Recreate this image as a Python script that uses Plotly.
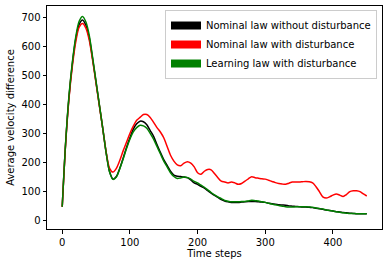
import plotly.graph_objects as go

t_early = [0, 5, 10, 15, 20, 25, 30, 35, 40, 45, 50, 55, 60, 65, 70, 75, 80, 85, 90, 95]
t_late = list(range(100, 451, 5))
time_steps = t_early + t_late

black_vals = [48, 265, 425, 540, 625, 675, 690, 672, 628, 555, 475, 395, 315, 232, 168, 143, 152, 180, 215, 252,
              285, 315, 333, 342, 340, 330, 310, 290, 262, 235, 210, 190, 170, 157, 153, 152, 150, 148, 140, 130,
              125, 118, 112, 103, 95, 87, 80, 73, 68, 65, 63, 63, 63, 64, 65, 66, 66, 66, 65, 64,
              63, 60, 58, 57, 55, 54, 53, 51, 50, 49, 48, 47, 47, 46, 45, 43, 41, 39, 37, 35,
              33, 31, 30, 28, 27, 26, 25, 24, 24, 24, 24]

red_vals = [48, 262, 420, 532, 615, 665, 678, 662, 620, 550, 472, 393, 315, 235, 180, 167, 180, 207, 240, 270,
            300, 325, 345, 355, 365, 365, 355, 338, 320, 305, 285, 255, 225, 205, 192, 189, 198, 203, 198, 185,
            165, 160, 170, 176, 175, 162, 148, 136, 133, 130, 133, 130, 125, 128, 136, 144, 151, 148, 146, 144,
            143, 139, 135, 131, 128, 126, 125, 129, 133, 133, 133, 134, 135, 134, 130, 117, 100, 82, 78, 82,
            88, 92, 88, 83, 90, 100, 103, 103, 100, 92, 85]

green_vals = [48, 268, 430, 545, 632, 685, 702, 683, 636, 560, 478, 397, 316, 232, 167, 142, 150, 178, 212, 248,
              280, 305, 320, 328, 326, 318, 300, 280, 255, 230, 205, 185, 165, 152, 145, 147, 150, 148, 143, 135,
              130, 122, 115, 106, 97, 89, 82, 76, 70, 67, 65, 65, 65, 66, 66, 68, 70, 69, 68, 65,
              63, 60, 57, 55, 52, 50, 48, 47, 47, 48, 48, 48, 48, 47, 46, 44, 42, 40, 37, 35,
              33, 31, 29, 27, 26, 25, 25, 24, 24, 24, 24]

series_names = ["Nominal law without disturbance", "Nominal law with disturbance", "Learning law with disturbance"]
series_colors = ["black", "red", "green"]
series_values = [black_vals, red_vals, green_vals]

x_ticks = [0, 100, 200, 300, 400]
y_ticks = [0, 100, 200, 300, 400, 500, 600, 700]

fig = go.Figure()
for name, color, vals in zip(series_names, series_colors, series_values):
    n = min(len(time_steps), len(vals))
    fig.add_trace(go.Scatter(x=time_steps[:n], y=vals[:n], mode="lines", name=name,
                             line=dict(color=color, width=1.5, shape="spline", smoothing=0.8),
                             showlegend=False))
for name, color in zip(series_names, series_colors):
    fig.add_trace(go.Scatter(x=[None], y=[None], mode="lines", name=name,
                             line=dict(color=color, width=8)))

axis_common = dict(showline=True, linecolor="black", linewidth=1, mirror=True, ticks="outside",
                   ticklen=3.5, tickcolor="black", showgrid=False, zeroline=False,
                   tickfont=dict(size=10, color="black"))

fig.update_layout(
    width=389, height=262,
    margin=dict(l=47, r=7, t=6, b=33),
    paper_bgcolor="white", plot_bgcolor="white",
    font=dict(family="DejaVu Sans", size=10, color="black"),
    xaxis=dict(range=[-22.5, 472.5], tickvals=x_ticks, automargin=False,
               title=dict(text="Time steps", font=dict(size=10), standoff=2), **axis_common),
    yaxis=dict(range=[-28.5, 738], tickvals=y_ticks, automargin=False,
               title=dict(text="Average velocity difference", font=dict(size=10), standoff=4), **axis_common),
    legend=dict(x=0.985, y=0.982, xanchor="right", yanchor="top", bgcolor="white",
                bordercolor="#cccccc", borderwidth=1, font=dict(size=10),
                itemwidth=30, tracegroupgap=0),
)

fig.write_html("out.html", config={"displayModeBar": False},
               post_script="document.body.style.margin='0';document.body.style.padding='0';")
